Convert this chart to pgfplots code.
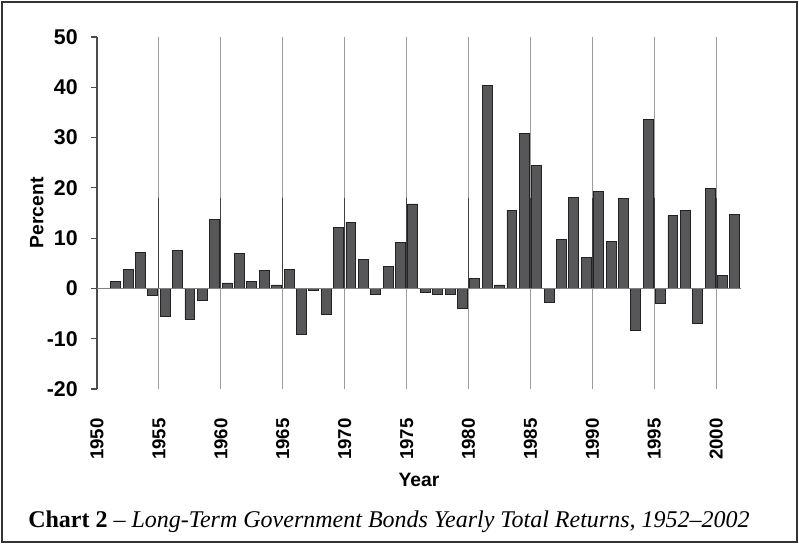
\documentclass[border=0pt]{standalone}
\usepackage{pgfplots}
\pgfplotsset{compat=1.18}
\usepackage{fontspec}
\setmainfont{Liberation Serif}
\setsansfont{Liberation Sans}

\definecolor{barfill}{HTML}{575759}
\definecolor{baredge}{HTML}{222222}
\definecolor{gridc}{HTML}{9C9C9C}
\definecolor{framec}{HTML}{333333}

\begin{document}
\begin{tikzpicture}
% page = 799x544 px, 1 px = 0.75pt
% x is counted in years since 1950; a bar for year Y sits at Y-1950-0.5
\path[use as bounding box] (0,0) rectangle (599.25pt,408pt);
\draw[framec, line width=1.9pt] (1.5pt,1.5pt) rectangle (597.75pt,406.5pt);
\begin{axis}[
  at={(72.75pt,116.25pt)}, anchor=south west,
  scale only axis, width=483pt, height=264pt,
  xmin=0, xmax=52, ymin=-20, ymax=50,
  axis lines*=left,
  x axis line style={draw=none},
  y axis line style={draw=black!70, line width=0.8pt},
  xtick={0,5,10,15,20,25,30,35,40,45,50},
  xticklabels={1950,1955,1960,1965,1970,1975,1980,1985,1990,1995,2000},
  ytick={-20,-10,0,10,20,30,40,50},
  yticklabels={-20,-10,0,10,20,30,40,50},
  x tick style={draw=none},
  y tick style={draw=black!70, line width=0.8pt},
  tick align=outside, major tick length=4.5pt,
  xmajorgrids, major grid style={gridc, line width=0.8pt},
  xticklabel style={rotate=90, anchor=east, font=\sffamily\bfseries\fontsize{14}{16}\selectfont},
  xticklabel shift=14pt,
  yticklabel style={font=\sffamily\bfseries\fontsize{16}{18}\selectfont},
  yticklabel shift=6.5pt,
  xlabel={Year}, ylabel={Percent},
  label style={font=\sffamily\bfseries\fontsize{14.5}{17}\selectfont},
  xlabel style={at={(axis description cs:0.5,-0.2585)}, anchor=center},
  ylabel style={at={(axis description cs:-0.0935,0.5)}, anchor=center},
  clip=false,
]
\addplot[ybar, bar width=0.8, fill=barfill, draw=baredge, line width=0.6pt] coordinates {
(1.5,1.3) (2.5,3.7) (3.5,7.2) (4.5,-1.3) (5.5,-5.6)
(6.5,7.5) (7.5,-6.2) (8.5,-2.3) (9.5,13.8) (10.5,1.1)
(11.5,6.9) (12.5,1.3) (13.5,3.6) (14.5,0.7) (15.5,3.7)
(16.5,-9.2) (17.5,-0.4) (18.5,-5.1) (19.5,12.1) (20.5,13.2)
(21.5,5.7) (22.5,-1.1) (23.5,4.4) (24.5,9.2) (25.5,16.8)
(26.5,-0.7) (27.5,-1.2) (28.5,-1.2) (29.5,-4.0) (30.5,1.9)
(31.5,40.3) (32.5,0.7) (33.5,15.5) (34.5,30.9) (35.5,24.5)
(36.5,-2.7) (37.5,9.7) (38.5,18.1) (39.5,6.2) (40.5,19.3)
(41.5,9.4) (42.5,17.9) (43.5,-8.4) (44.5,33.6) (45.5,-2.9)
(46.5,14.5) (47.5,15.5) (48.5,-7.0) (49.5,19.9) (50.5,2.6)
(51.5,14.8)
};
\draw[black!50, line width=1pt] (axis cs:0,0) -- (axis cs:52,0);
\pgfplotsinvokeforeach{5,10,15,20,25,30,35,40,45,50}{
  \draw[black!75, line width=0.8pt] (axis cs:#1,0) -- ++(0,-7.5pt);
}
\end{axis}
\node[anchor=base west, inner sep=0pt, font=\fontsize{18}{20}\selectfont] at (21pt,12.75pt)
  {\textbf{Chart 2} -- \textit{Long-Term Government Bonds Yearly Total Returns, 1952--2002}};
\end{tikzpicture}
\end{document}
